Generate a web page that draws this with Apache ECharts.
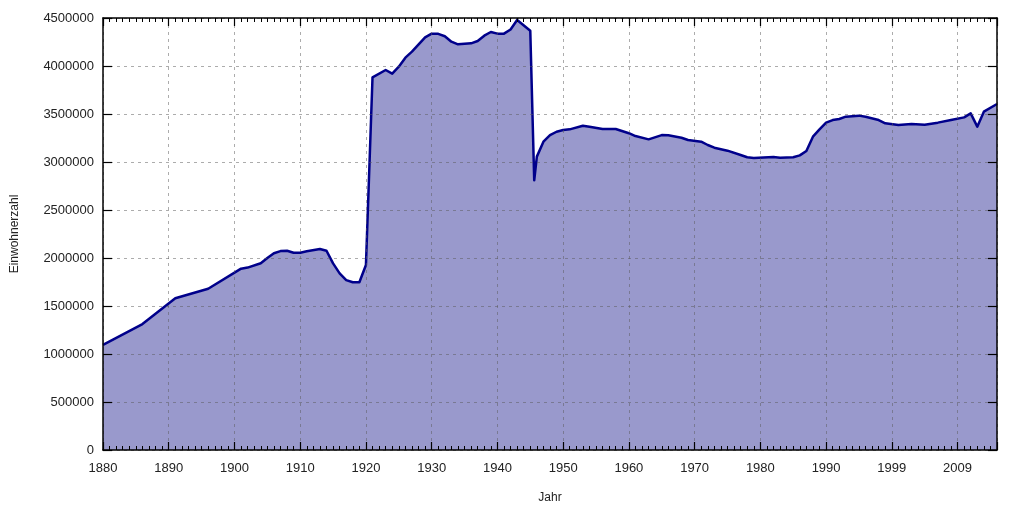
<!DOCTYPE html>
<html>
<head>
<meta charset="utf-8">
<script src="https://cdn.jsdelivr.net/npm/echarts@6/dist/echarts.min.js"></script>
<style>html,body{margin:0;padding:0;background:#fff}#c{width:1024px;height:512px}</style>
</head>
<body>
<div id="c"></div>
<script>
const years = [1880,1886,1891,1896,1901,1902,1904,1905,1906,1907,1908,1909,1910,1911,1913,1914,1915,1916,1917,1918,1919,1920,1921,1923,1924,1925,1926,1927,1929,1930,1931,1932,1933,1934,1936,1937,1938,1939,1940,1941,1942,1943,1945,1945.6,1946,1947,1948,1949,1950,1951,1953,1954,1956,1958,1960,1961,1963,1965,1966,1968,1969,1971,1972,1973,1975,1977,1978,1979,1982,1983,1985,1986,1987,1988,1989,1990,1991,1992,1993,1995,1996,1998,1999,2001,2003,2005,2007,2009,2011,2012,2013,2014,2016];
const population = [1094000,1312000,1580000,1680000,1889000,1900000,1945000,2000000,2050000,2072000,2076000,2055000,2055000,2070000,2094000,2076000,1944000,1840000,1770000,1747000,1747000,1927000,3882000,3958000,3920000,3993000,4087000,4149000,4299000,4337000,4335000,4310000,4253000,4226000,4236000,4260000,4316000,4354000,4337000,4337000,4380000,4480000,4368000,2810000,3056000,3212000,3280000,3315000,3333000,3340000,3378000,3368000,3344000,3344000,3300000,3270000,3236000,3280000,3278000,3253000,3229000,3212000,3177000,3149000,3118000,3073000,3049000,3042000,3052000,3045000,3049000,3069000,3115000,3264000,3340000,3410000,3437000,3448000,3472000,3483000,3472000,3437000,3403000,3385000,3396000,3389000,3410000,3437000,3465000,3507000,3368000,3524000,3604000];
const xTickLabels = {1880:'1880',1890:'1890',1900:'1900',1910:'1910',1920:'1920',1930:'1930',1940:'1940',1950:'1950',1960:'1960',1970:'1970',1980:'1980',1990:'1990',2000:'1999',2010:'2009'};

const chart = echarts.init(document.getElementById('c'));
const font = 'Liberation Sans, Arial, sans-serif';
const axisLine = {show:true, onZero:false, lineStyle:{color:'#000', width:1.5}};
const split = {show:true, lineStyle:{color:'rgba(90,90,90,0.5)', type:[3,4], width:1}};
chart.setOption({
  animation:false,
  backgroundColor:'#fff',
  grid:{left:103, right:27, top:18, bottom:62},
  xAxis:[{
    type:'value', min:1880, max:2016, interval:10, position:'bottom', z:10,
    name:'Jahr', nameLocation:'middle', nameGap:42,
    nameTextStyle:{fontFamily:font, fontSize:12, color:'#222'},
    axisLine:axisLine,
    axisTick:{show:true, inside:true, length:8, lineStyle:{color:'#000', width:1.2}},
    minorTick:{show:true, splitNumber:10, length:4, lineStyle:{color:'#000', width:1}},
    axisLabel:{fontFamily:font, fontSize:13, color:'#222', margin:12, showMaxLabel:false,
      formatter:v => xTickLabels[v] || ''},
    splitLine:split
  },{
    type:'value', min:1880, max:2016, interval:10, position:'top', z:10,
    axisLine:axisLine,
    axisTick:{show:true, inside:true, length:8, lineStyle:{color:'#000', width:1.2}},
    minorTick:{show:true, splitNumber:10, length:4, lineStyle:{color:'#000', width:1}},
    axisLabel:{show:false}, splitLine:{show:false}
  }],
  yAxis:[{
    type:'value', min:0, max:4500000, interval:500000, position:'left', z:10,
    name:'Einwohnerzahl', nameLocation:'middle', nameGap:82,
    nameTextStyle:{fontFamily:font, fontSize:12, color:'#222'},
    axisLine:axisLine,
    axisTick:{show:true, inside:true, length:9, lineStyle:{color:'#000', width:1.2}},
    axisLabel:{fontFamily:font, fontSize:13, color:'#222', margin:9, formatter:v => String(v)},
    splitLine:split
  },{
    type:'value', min:0, max:4500000, interval:500000, position:'right', z:10,
    axisLine:axisLine,
    axisTick:{show:true, inside:true, length:9, lineStyle:{color:'#000', width:1.2}},
    axisLabel:{show:false}, splitLine:{show:false}
  }],
  series:[{
    type:'line', xAxisIndex:0, yAxisIndex:0,
    data: years.map((y,i)=>[y, population[i]]),
    showSymbol:false, symbol:'none',
    lineStyle:{color:'#00008b', width:2.5, join:'round'},
    areaStyle:{color:'#9999cc', opacity:1},
    z:2
  }]
});
</script>
</body>
</html>
